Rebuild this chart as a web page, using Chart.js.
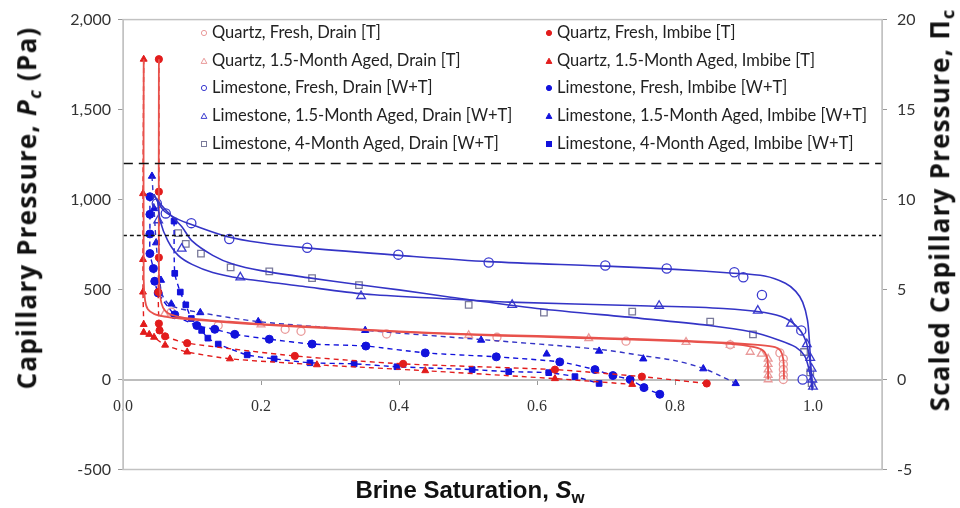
<!DOCTYPE html>
<html>
<head>
<meta charset="utf-8">
<script src="https://cdn.jsdelivr.net/npm/chart.js@4.4.0/dist/chart.umd.min.js"></script>
<style>
  body { margin: 0; background: #fff; }
  #wrap { position: relative; width: 960px; height: 508px; overflow: hidden; }
  canvas { position: absolute; left: 0; top: 0; }
  .vtitle { position: absolute; font: bold 26px "Open Sans", sans-serif; letter-spacing: 1.2px; color: #111; white-space: nowrap;
            transform: translate(-50%, -50%) rotate(-90deg); }
  .xtitle { position: absolute; left: 470px; top: 492px; transform: translate(-50%, -50%);
            font: bold 24px "Liberation Sans Narrow", sans-serif; color: #111; white-space: nowrap; }
  sub { font-size: 70%; vertical-align: -0.25em; }
  .leg { position: absolute; font: 16.5px Lato, sans-serif; color: #222; white-space: nowrap; line-height: 18px; }
  .leg svg { vertical-align: middle; margin-right: 4px; position: relative; top: -1px; }
</style>
</head>
<body>
<div id="wrap">
  <canvas id="pc-chart" width="960" height="508"></canvas>
  <div class="vtitle" style="left:27px; top:208px;">Capillary Pressure, <i>P<sub>c</sub></i> (Pa)</div>
  <div class="vtitle" style="left:940px; top:210px;">Scaled Capillary Pressure, Π<sub>c</sub></div>
  <div class="xtitle">Brine Saturation, <i>S</i><sub>w</sub></div>
  <div id="legend"></div>
</div>
<script>
// ================= DATA =================
const refSw = [0, 1.1];
const upperLevel = [1200, 1200];
const lowerLevel = [800, 800];

// Quartz, fresh, drainage
const qfDrainSw = [0.07, 0.138, 0.235, 0.258, 0.382, 0.542, 0.729, 0.88, 0.952, 0.957, 0.957, 0.957, 0.957, 0.957];
const qfDrainPc = [375, 300, 279, 268, 253, 235, 213, 193, 148, 115, 85, 55, 25, 0];
const qfFitSw = [0.052, 0.052, 0.054, 0.058, 0.065, 0.08, 0.1, 0.15, 0.2, 0.3, 0.4, 0.5, 0.6, 0.7, 0.8, 0.88, 0.92, 0.945, 0.953, 0.957, 0.958];
const qfFitPc = [1780, 600, 460, 400, 370, 350, 338, 322, 308, 288, 268, 252, 242, 230, 217, 203, 192, 180, 160, 110, 0];

// Quartz, 1.5-month aged, drainage
const q15DrainSw = [0.06, 0.2, 0.501, 0.675, 0.816, 0.88, 0.909, 0.925, 0.935, 0.935, 0.935, 0.935, 0.935];
const q15DrainPc = [365, 305, 246, 229, 208, 191, 153, 142, 115, 85, 55, 25, 0];
const q15FitSw = [0.03, 0.03, 0.032, 0.036, 0.045, 0.06, 0.08, 0.1, 0.15, 0.2, 0.3, 0.4, 0.5, 0.6, 0.7, 0.8, 0.88, 0.915, 0.928, 0.934, 0.935];
const q15FitPc = [1780, 560, 440, 390, 365, 350, 340, 333, 318, 305, 284, 265, 249, 238, 226, 213, 198, 180, 160, 110, 0];

// Quartz, imbibition
const qfImbSw = [0.052, 0.052, 0.052, 0.051, 0.052, 0.053, 0.061, 0.093, 0.249, 0.406, 0.626, 0.752, 0.846];
const qfImbPc = [1780, 1044, 678, 486, 311, 273, 240, 202, 131, 87, 55, 16, -22];
const q15ImbSw = [0.03, 0.029, 0.029, 0.029, 0.03, 0.03, 0.038, 0.045, 0.061, 0.093, 0.155, 0.281, 0.438, 0.626, 0.738];
const q15ImbPc = [1780, 1033, 667, 486, 306, 262, 251, 235, 191, 153, 115, 82, 49, 5, -27];

// Limestone, fresh, drainage
const lfDrainSw = [0.049, 0.062, 0.099, 0.154, 0.267, 0.399, 0.53, 0.699, 0.788, 0.886, 0.899, 0.926, 0.983, 0.985];
const lfDrainPc = [978, 923, 869, 781, 732, 694, 650, 634, 617, 596, 568, 470, 273, 0];
const lfFitSw = [0.045, 0.05, 0.06, 0.08, 0.1, 0.15, 0.2, 0.27, 0.4, 0.53, 0.7, 0.8, 0.88, 0.93, 0.96, 0.975, 0.985, 0.992, 0.995, 0.997, 0.999];
const lfFitPc = [1030, 990, 935, 890, 860, 795, 760, 730, 690, 655, 630, 612, 592, 575, 535, 490, 430, 330, 200, 50, -50];

// Limestone, 1.5-month aged, drainage
const l15DrainSw = [0.051, 0.085, 0.17, 0.345, 0.564, 0.777, 0.92, 0.968, 0.991, 0.996, 0.998, 0.999, 1.0];
const l15DrainPc = [885, 727, 568, 464, 415, 410, 383, 311, 197, 120, 60, 0, -40];
const l15FitSw = [0.05, 0.054, 0.065, 0.08, 0.1, 0.13, 0.17, 0.26, 0.35, 0.46, 0.56, 0.75, 0.87, 0.93, 0.96, 0.98, 0.99, 0.995, 0.998, 1.0];
const l15FitPc = [1000, 880, 770, 690, 640, 595, 563, 518, 475, 450, 430, 410, 395, 372, 340, 280, 210, 120, 20, -50];

// Limestone, 4-month aged, drainage
const l4DrainSw = [0.08, 0.091, 0.113, 0.156, 0.212, 0.274, 0.342, 0.501, 0.61, 0.738, 0.851, 0.913, 0.987, 0.996, 0.998];
const l4DrainPc = [814, 754, 700, 623, 601, 563, 525, 415, 372, 377, 322, 251, 153, 40, -20];
const l4FitSw = [0.045, 0.06, 0.085, 0.1, 0.13, 0.16, 0.2, 0.27, 0.34, 0.4, 0.47, 0.6, 0.75, 0.85, 0.91, 0.95, 0.975, 0.988, 0.994, 0.997, 0.999];
const l4FitPc = [1020, 950, 850, 770, 690, 640, 605, 565, 528, 498, 460, 395, 340, 300, 265, 220, 180, 130, 60, 0, -60];

// Limestone, imbibition
const lfImbSw = [0.039, 0.039, 0.039, 0.039, 0.044, 0.046, 0.051, 0.075, 0.107, 0.133, 0.162, 0.212, 0.274, 0.352, 0.438, 0.541, 0.633, 0.684, 0.71, 0.735, 0.755, 0.778];
const lfImbPc = [1016, 918, 809, 700, 617, 546, 481, 360, 300, 279, 251, 224, 197, 186, 148, 126, 98, 55, 22, 0, -45, -82];
const l15ImbSw = [0.042, 0.045, 0.048, 0.055, 0.07, 0.112, 0.196, 0.351, 0.519, 0.614, 0.69, 0.754, 0.841, 0.888];
const l15ImbPc = [1130, 950, 760, 552, 420, 372, 322, 273, 219, 142, 158, 115, 60, -22];
const l15ImbFitSw = [0.042, 0.045, 0.048, 0.052, 0.057, 0.07, 0.112, 0.196, 0.351, 0.519, 0.69, 0.754, 0.8, 0.841, 0.865, 0.888];
const l15ImbFitPc = [1130, 950, 760, 600, 470, 410, 372, 322, 273, 222, 168, 132, 105, 62, 22, -22];
const l4ImbSw = [0.074, 0.075, 0.083, 0.091, 0.099, 0.114, 0.123, 0.138, 0.18, 0.219, 0.271, 0.335, 0.397, 0.506, 0.559, 0.617, 0.655, 0.69];
const l4ImbPc = [880, 590, 486, 415, 339, 273, 230, 197, 137, 115, 93, 87, 71, 55, 44, 38, 16, -22];

// ================= STYLES =================
const BLUE_LINE = "#3434c6";
const BLUE_FILL = "#1212dc";
const BLUE_OPEN = "#3b3bcf";
const SQUARE_OPEN = "#7a7a9a";
const RED_LINE = "#e8524c";
const RED_FILL = "#e21c1c";
const PINK_OPEN = "#e99a9a";

const pts = (xs, ys) => xs.map((x, i) => ({ x, y: ys[i] }));

function fitLine(xs, ys, color, width, dash) {
    return { data: pts(xs, ys), showLine: true, borderColor: color, borderWidth: width,
             borderDash: dash || [], pointRadius: 0, tension: 0.3, fill: false };
}
function markers(xs, ys, style, radius, stroke, fillColor) {
    return { data: pts(xs, ys), showLine: false, pointStyle: style, pointRadius: radius,
             borderColor: stroke, backgroundColor: fillColor, pointBorderWidth: 1.3 };
}
function imbibe(xs, ys, style, radius, color, withLine) {
    return { data: pts(xs, ys), showLine: withLine, borderColor: color, borderWidth: 1.4,
             borderDash: [5, 4], tension: 0.2, pointStyle: style, pointRadius: radius,
             pointBackgroundColor: color, pointBorderColor: color, pointBorderWidth: 1 };
}

const datasets = [
    // reference levels
    fitLine(refSw, upperLevel, "#111", 1.4, [10, 6]),
    fitLine(refSw, lowerLevel, "#111", 1.4, [4, 3]),

    // drainage fits
    fitLine(lfFitSw, lfFitPc, BLUE_LINE, 1.6),
    fitLine(l15FitSw, l15FitPc, BLUE_LINE, 1.6),
    fitLine(l4FitSw, l4FitPc, BLUE_LINE, 1.6),
    fitLine(qfFitSw, qfFitPc, RED_LINE, 1.8),
    fitLine(q15FitSw, q15FitPc, RED_LINE, 1.8),

    // imbibition
    imbibe(qfImbSw, qfImbPc, "circle", 3.6, RED_FILL, true),
    imbibe(q15ImbSw, q15ImbPc, "triangle", 4, RED_FILL, true),
    fitLine(l15ImbFitSw, l15ImbFitPc, BLUE_LINE, 1.4, [5, 4]),
    imbibe(l15ImbSw, l15ImbPc, "triangle", 4.2, BLUE_FILL, false),
    imbibe(lfImbSw, lfImbPc, "circle", 4, BLUE_FILL, true),
    imbibe(l4ImbSw, l4ImbPc, "rect", 4, BLUE_FILL, true),

    // drainage measurements
    markers(qfDrainSw, qfDrainPc, "circle", 4, PINK_OPEN, "rgba(255,255,255,0.6)"),
    markers(q15DrainSw, q15DrainPc, "triangle", 4.5, PINK_OPEN, "rgba(255,255,255,0.6)"),
    markers(lfDrainSw, lfDrainPc, "circle", 4.6, BLUE_OPEN, "rgba(255,255,255,0.6)"),
    markers(l15DrainSw, l15DrainPc, "triangle", 5, BLUE_OPEN, "rgba(255,255,255,0.6)"),
    markers(l4DrainSw, l4DrainPc, "rect", 4.6, SQUARE_OPEN, "rgba(255,255,255,0.6)")
];

// ================= LEGEND =================
const legendLeft = [
    ["Quartz, Fresh, Drain [T]", "circle", PINK_OPEN, false],
    ["Quartz, 1.5-Month Aged, Drain [T]", "triangle", PINK_OPEN, false],
    ["Limestone, Fresh, Drain [W+T]", "circle", BLUE_OPEN, false],
    ["Limestone, 1.5-Month Aged, Drain [W+T]", "triangle", BLUE_OPEN, false],
    ["Limestone, 4-Month Aged, Drain [W+T]", "rect", SQUARE_OPEN, false]
];
const legendRight = [
    ["Quartz, Fresh, Imbibe [T]", "circle", RED_FILL, true],
    ["Quartz, 1.5-Month Aged, Imbibe [T]", "triangle", RED_FILL, true],
    ["Limestone, Fresh, Imbibe [W+T]", "circle", BLUE_FILL, true],
    ["Limestone, 1.5-Month Aged, Imbibe [W+T]", "triangle", BLUE_FILL, true],
    ["Limestone, 4-Month Aged, Imbibe [W+T]", "rect", BLUE_FILL, true]
];

function markerSvg(shape, color, filled) {
    const fill = filled ? color : "none";
    let body;
    if (shape === "circle") body = `<circle cx="4" cy="4" r="2.6" fill="${fill}" stroke="${color}" stroke-width="1"/>`;
    else if (shape === "triangle") body = `<polygon points="4,1.2 6.9,6.4 1.1,6.4" fill="${fill}" stroke="${color}" stroke-width="1"/>`;
    else body = `<rect x="1.5" y="1.5" width="5" height="5" fill="${fill}" stroke="${color}" stroke-width="1"/>`;
    return `<svg width="8" height="8" viewBox="0 0 8 8">${body}</svg>`;
}

const legendEl = document.getElementById("legend");
const rowY = [23, 51, 78, 106, 134];
[[legendLeft, 200], [legendRight, 545]].forEach(([items, left]) => {
    items.forEach((item, i) => {
        const div = document.createElement("div");
        div.className = "leg";
        div.style.left = left + "px";
        div.style.top = rowY[i] + "px";
        div.innerHTML = markerSvg(item[1], item[2], item[3]) + item[0];
        legendEl.appendChild(div);
    });
});

// ================= CHART =================
const framePlugin = {
    id: "frame",
    afterDraw(chart) {
        const { ctx, chartArea: a } = chart;
        ctx.save();
        ctx.strokeStyle = "#c2c2c2";
        ctx.lineWidth = 1.5;
        ctx.strokeRect(a.left, a.top, a.right - a.left, a.bottom - a.top);
        ctx.restore();
    }
};

const tickFont = { family: "Lato", size: 16 };

new Chart(document.getElementById("pc-chart").getContext("2d"), {
    type: "scatter",
    data: { datasets },
    options: {
        responsive: false,
        animation: false,
        layout: { padding: { top: 12, bottom: 38.5, left: 0, right: 0 } },
        plugins: { legend: { display: false }, tooltip: { enabled: false } },
        scales: {
            x: {
                type: "linear",
                position: { y: 0 },
                min: 0,
                max: 1.1,
                afterBuildTicks: s => { s.ticks = s.ticks.filter(t => t.value < 1.05); },
                ticks: { stepSize: 0.2, callback: v => v.toFixed(1), color: "#333",
                         font: { family: "Liberation Sans Narrow", size: 16 }, padding: 14, maxRotation: 0 },
                grid: { drawOnChartArea: false, tickLength: 4, color: "#999" },
                border: { color: "#bdbdbd", width: 2 }
            },
            y: {
                position: "left",
                min: -500,
                max: 2000,
                ticks: { stepSize: 500, callback: v => v.toLocaleString("en-US"), color: "#333", font: tickFont, padding: 7 },
                grid: { drawOnChartArea: false, tickLength: 5, color: "#999" },
                border: { color: "#c2c2c2" },
                afterFit: s => { s.width = 123; }
            },
            y2: {
                position: "right",
                min: -5,
                max: 20,
                ticks: { stepSize: 5, color: "#333", font: tickFont, padding: 10 },
                grid: { drawOnChartArea: false, tickLength: 5, color: "#999" },
                border: { color: "#c2c2c2" },
                afterFit: s => { s.width = 78; }
            }
        }
    },
    plugins: [framePlugin]
});
</script>
</body>
</html>
